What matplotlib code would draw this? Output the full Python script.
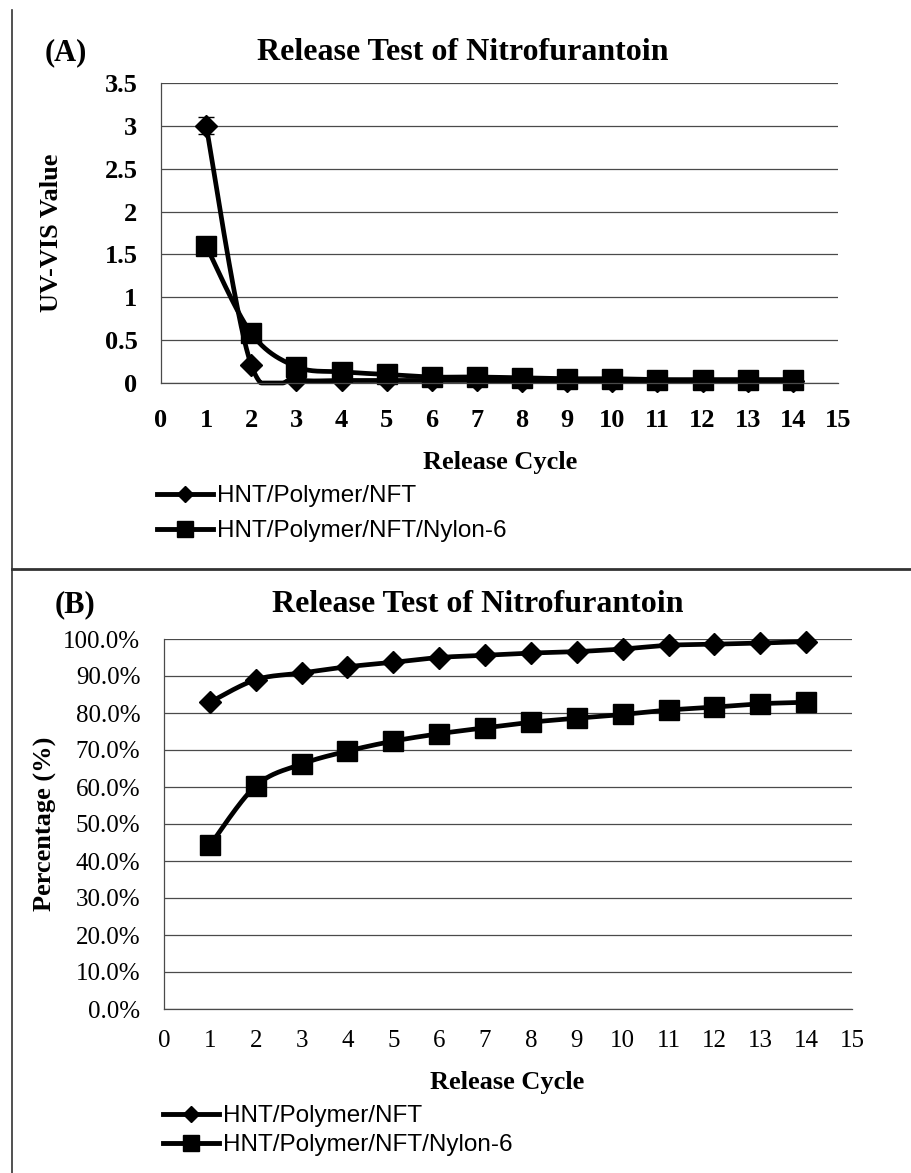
import numpy as np
import matplotlib
matplotlib.use('Agg')
import matplotlib.pyplot as plt
from matplotlib.lines import Line2D

# data
cycles = np.arange(1, 15)

uv_nft = [3.0, 0.21, 0.04, 0.03, 0.03, 0.03, 0.03, 0.02, 0.02, 0.02, 0.02, 0.02, 0.02, 0.02]
uv_nft_err = [0.1, 0, 0, 0, 0, 0, 0, 0, 0, 0, 0, 0, 0, 0]
uv_nylon = [1.6, 0.58, 0.19, 0.13, 0.10, 0.07, 0.07, 0.06, 0.05, 0.05, 0.04, 0.04, 0.04, 0.04]

pct_nft = [82.9, 89.0, 90.8, 92.5, 93.7, 95.0, 95.6, 96.2, 96.6, 97.3, 98.3, 98.6, 98.9, 99.3]
pct_nylon = [44.2, 60.3, 66.2, 69.7, 72.4, 74.4, 76.0, 77.5, 78.6, 79.6, 80.8, 81.6, 82.5, 82.9]

labels = ['HNT/Polymer/NFT', 'HNT/Polymer/NFT/Nylon-6']
title = 'Release Test of Nitrofurantoin'

W, H = 911, 1173
serif = ['Liberation Serif', 'DejaVu Serif']
sans = ['Liberation Sans', 'DejaVu Sans']
gridc = '#4a4a4a'


def smooth(x, y, n=40):
    # Excel style smoothed line (Bezier through the points)
    P = np.column_stack([x, y]).astype(float)
    Pp = np.vstack([P[:1], P, P[-1:]])
    t = np.linspace(0, 1, n)[1:, None]
    pts = [P[:1]]
    for i in range(len(P) - 1):
        p0, p3 = P[i], P[i + 1]
        c1 = p0 + (Pp[i + 2] - Pp[i]) / 6
        c2 = p3 - (Pp[i + 3] - Pp[i + 1]) / 6
        seg = (1 - t) ** 3 * p0 + 3 * (1 - t) ** 2 * t * c1 + 3 * (1 - t) * t ** 2 * c2 + t ** 3 * p3
        pts.append(seg)
    pts = np.vstack(pts)
    # keep the overshoot from going under the baseline
    return pts[:, 0], np.maximum(pts[:, 1], 0)


def ax_rect(l, r, t, b):
    return [l / W, 1 - b / H, (r - l) / W, (b - t) / H]


def fxy(x, y):
    return x / W, 1 - y / H


def style(ax, ymax, ystep):
    ax.set_xlim(0, 15)
    ax.set_ylim(0, ymax)
    ax.set_xticks(range(0, 16))
    ax.set_yticks(np.arange(0, ymax + ystep / 2, ystep))
    ax.grid(axis='y', color=gridc, lw=0.9)
    ax.set_axisbelow(True)
    for s in ['top', 'right']:
        ax.spines[s].set_visible(False)
    for s in ['left', 'bottom']:
        ax.spines[s].set_color(gridc)
        ax.spines[s].set_linewidth(0.9)
    ax.tick_params(length=0)


def draw(ax, ya, yb, lw, ms_d, ms_s):
    xs, ys = smooth(cycles, ya)
    ax.plot(xs, ys, color='black', lw=lw, solid_capstyle='round', clip_on=False)
    ax.plot(cycles, ya, 'D', color='black', ms=ms_d, ls='none', clip_on=False)
    xs, ys = smooth(cycles, yb)
    ax.plot(xs, ys, color='black', lw=lw, solid_capstyle='round', clip_on=False)
    ax.plot(cycles, yb, 's', color='black', ms=ms_s, ls='none', clip_on=False)


def legend(ax, x, y, spacing):
    h1 = Line2D([], [], color='black', lw=3.5, marker='D', ms=8)
    h2 = Line2D([], [], color='black', lw=3.5, marker='s', ms=11)
    ax.legend([h1, h2], labels, loc='upper left', bbox_to_anchor=fxy(x, y),
              bbox_transform=ax.figure.transFigure, frameon=False, borderpad=0,
              borderaxespad=0, handlelength=2.3, handletextpad=0.15,
              labelspacing=spacing, prop={'family': sans, 'size': 17.5})


fig = plt.figure(figsize=(W / 100, H / 100), dpi=100)

# panel A
axA = fig.add_axes(ax_rect(161, 838, 83, 383))
style(axA, 3.5, 0.5)
draw(axA, uv_nft, uv_nylon, 3.4, 11, 14)
axA.errorbar(cycles, uv_nft, yerr=uv_nft_err, fmt='none', ecolor='black', elinewidth=1.5, capsize=6)
axA.set_yticklabels(['0', '0.5', '1', '1.5', '2', '2.5', '3', '3.5'])
for lab in axA.get_xticklabels() + axA.get_yticklabels():
    lab.set_family(serif)
    lab.set_fontweight('bold')
    lab.set_fontsize(19)
axA.tick_params(axis='x', pad=19)
axA.tick_params(axis='y', pad=17)
axA.set_xlabel('Release Cycle', family=serif, weight='bold', fontsize=19)
axA.set_ylabel('UV-VIS Value', family=serif, weight='bold', fontsize=19)
axA.xaxis.set_label_coords(*fxy(500, 462), transform=fig.transFigure)
axA.xaxis.label.set_va('center')
axA.yaxis.set_label_coords(*fxy(52, 233), transform=fig.transFigure)
axA.yaxis.label.set_va('center')
fig.text(*fxy(463, 52), title, family=serif, weight='bold', fontsize=23, ha='center', va='center')
fig.text(*fxy(66, 53), '(A)', family=serif, weight='bold', fontsize=22, ha='center', va='center')
legend(axA, 157, 485, 0.55)

# panel B
axB = fig.add_axes(ax_rect(164, 852, 639, 1009))
style(axB, 100, 10)
draw(axB, pct_nft, pct_nylon, 3.4, 11, 14)
axB.set_yticklabels(['%.1f%%' % v for v in np.arange(0, 101, 10)])
for lab in axB.get_xticklabels() + axB.get_yticklabels():
    lab.set_family(serif)
    lab.set_fontsize(18)
axB.tick_params(axis='x', pad=15)
axB.tick_params(axis='y', pad=17)
axB.set_xlabel('Release Cycle', family=serif, weight='bold', fontsize=19)
axB.set_ylabel('Percentage (%)', family=serif, weight='bold', fontsize=19)
axB.xaxis.set_label_coords(*fxy(507, 1082), transform=fig.transFigure)
axB.xaxis.label.set_va('center')
axB.yaxis.set_label_coords(*fxy(45, 824), transform=fig.transFigure)
axB.yaxis.label.set_va('center')
fig.text(*fxy(478, 605), title, family=serif, weight='bold', fontsize=23, ha='center', va='center')
fig.text(*fxy(75, 605), '(B)', family=serif, weight='bold', fontsize=22, ha='center', va='center')
legend(axB, 163, 1105, 0.3)

# frame lines between the panels
fig.add_artist(Line2D([12 / W, 12 / W], [1 - 10 / H, 0], color='#333333', lw=1.2))
fig.add_artist(Line2D([12 / W, 1], [1 - 569 / H, 1 - 569 / H], color='#333333', lw=2))

fig.savefig('out.png', dpi=100)
